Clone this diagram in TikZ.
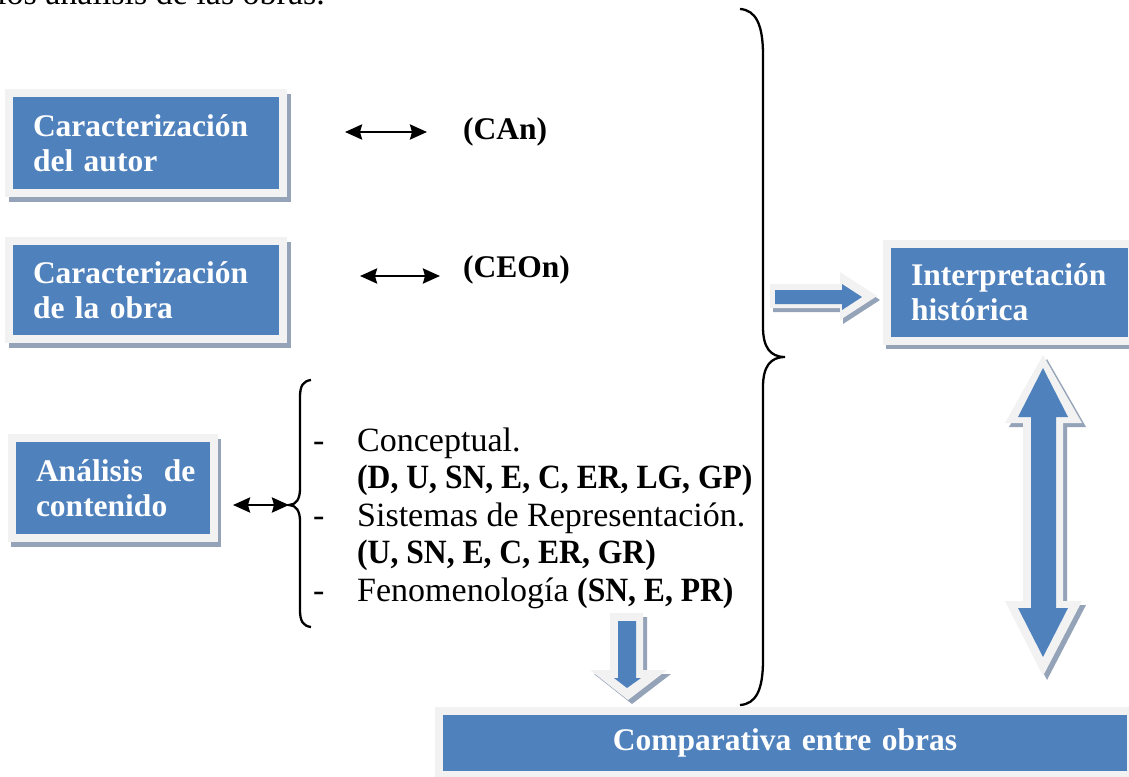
\documentclass[tikz,border=0pt]{standalone}
\usepackage{fontspec}
\setmainfont{Liberation Serif}
\usetikzlibrary{arrows.meta,backgrounds}
\definecolor{boxblue}{HTML}{4F81BD}
\definecolor{framegray}{HTML}{F2F2F2}
\definecolor{shadowgray}{HTML}{95A3B8}
\newcommand{\boldpart}[1]{\scalebox{0.93}[1]{\textbf{#1}}}
\tikzset{
  bluebox/.style={fill=boxblue, draw=framegray, line width=8pt, text=white,
    font=\fontsize{31.5}{35}\selectfont\bfseries, align=left, inner xsep=24pt, inner ysep=0pt},
  boxshadow/.style={fill=shadowgray},
  tag/.style={font=\fontsize{31.5}{35}\selectfont\bfseries, inner sep=0pt, anchor=west},
  listline/.style={font=\fontsize{34}{38}\selectfont, inner sep=0pt, anchor=base west},
  dblarrow/.style={{Stealth[length=17pt,width=15pt,inset=2pt]}-{Stealth[length=17pt,width=15pt,inset=2pt]}, line width=2.6pt},
  bracket/.style={line width=2.3pt},
}
\begin{document}
\begin{tikzpicture}[x=1pt,y=-1pt]
\useasboundingbox (0,0) rectangle (1129,776);
\clip (0,0) rectangle (1129,776);

\def\RARROW{(770,284) -- (840,284) -- (840,272) -- (877,296) -- (840,320) -- (840,308) -- (770,308) -- cycle}
\def\VARROW{(1043,355) -- (1082,423) -- (1063,423) -- (1063,601) -- (1082,601) -- (1043,676) -- (1005,601) -- (1023,601) -- (1023,423) -- (1005,423) -- cycle}
\def\DARROW{(610,613) -- (643,613) -- (643,670) -- (667,670) -- (628,700) -- (590,670) -- (610,670) -- cycle}

	\node[listline] (intro) at (-3,5) {los análisis de las obras.};

	% boxes
	\node[bluebox, minimum width=274pt, minimum height=100pt, text width=226pt] (b1) at (146,143) {Caracterización\\del autor};
	\node[bluebox, minimum width=274pt, minimum height=98pt, text width=226pt] (b2) at (146,290) {Caracterización\\de la obra};
	\node[bluebox, minimum width=202pt, minimum height=100pt, text width=154pt] (b3) at (113,488) {Análisis~ de\\contenido};
	\node[bluebox, minimum width=243pt, minimum height=97pt, text width=197pt] (b4) at (1009.5,292.5) {Interpretación\\histórica};
	\node[bluebox, minimum width=692pt, minimum height=64pt, text width=644pt, align=center] (b5) at (785,743) {Comparativa entre obras};

	\begin{scope}[on background layer]
	\fill[boxshadow] ([shift={(4,5)}]b1.north west) rectangle ([shift={(4,5)}]b1.south east);
	\fill[boxshadow] ([shift={(4,5)}]b2.north west) rectangle ([shift={(4,5)}]b2.south east);
	\fill[boxshadow] ([shift={(3,5)}]b3.north west) rectangle ([shift={(3,5)}]b3.south east);
	\fill[boxshadow] ([shift={(3,4)}]b4.north west) rectangle ([shift={(3,4)}]b4.south east);
	\end{scope}

	\node[tag] (can) at (463,132) {(CAn)};
	\node[tag] (ceon) at (463,270) {(CEOn)};

	\draw[dblarrow] ([xshift=58pt]b1.east |- can.west) -- ([xshift=-36pt]can.west);
	\draw[dblarrow] ([xshift=73pt,yshift=-6pt]b2.east |- ceon.west) -- ([xshift=-23pt,yshift=-6pt]ceon.west);

	% left bracket and list
	\coordinate (lbtip) at (289,505);
	\draw[bracket] (311,380) .. controls (303,381) and (300,386) .. (300,397) -- (300,489) .. controls (300,499) and (296,505) .. (lbtip) .. controls (296,505) and (300,511) .. (300,521) -- (300,610) .. controls (300,621) and (303,626) .. (311,627);
	\draw[dblarrow] ([xshift=15pt]b3.east |- lbtip) -- (lbtip);

	\node[listline] (d1) at (313,451) {-};
	\node[listline] (d2) at (313,526) {-};
	\node[listline] (d3) at (313,601) {-};
	\node[listline] (l1) at (357,451) {Conceptual.};
	\node[listline] (l2) at (357,488.5) {\boldpart{(D, U, SN, E, C, ER, LG, GP)}};
	\node[listline] (l3) at (357,526) {Sistemas de Representación.};
	\node[listline] (l4) at (357,563.5) {\boldpart{(U, SN, E, C, ER, GR)}};
	\node[listline] (l5) at (357,601) {Fenomenología \boldpart{(SN, E, PR)}};

	% big bracket
	\coordinate (rbtip) at (785,357);
	\draw[bracket] (740,9) .. controls (756,10) and (763,25) .. (763,55) -- (763,327) .. controls (763,347) and (770,357) .. (rbtip) .. controls (770,357) and (763,367) .. (763,387) -- (763,660) .. controls (763,690) and (756,704) .. (740,705);

	% block arrows
	\fill[boxshadow, shift={(3,4)}] \RARROW;
	\fill[framegray] \RARROW;
	\fill[boxblue] (775,290) -- (842,290) -- (842,284) -- (862,297) -- (842,310) -- (842,304) -- (775,304) -- cycle;

	\fill[boxshadow, shift={(4,4)}] \VARROW;
	\fill[framegray] \VARROW;
	\fill[boxblue] (1043,368) -- (1068,417) -- (1056,417) -- (1056,608) -- (1068,608) -- (1043,657) -- (1018,608) -- (1031,608) -- (1031,417) -- (1018,417) -- cycle;

	\fill[boxshadow, shift={(4,4)}] \DARROW;
	\fill[framegray] \DARROW;
	\fill[boxblue] (618,621) -- (636,621) -- (636,678) -- (641,678) -- (627,688) -- (614,678) -- (618,678) -- cycle;

\end{tikzpicture}
\end{document}
